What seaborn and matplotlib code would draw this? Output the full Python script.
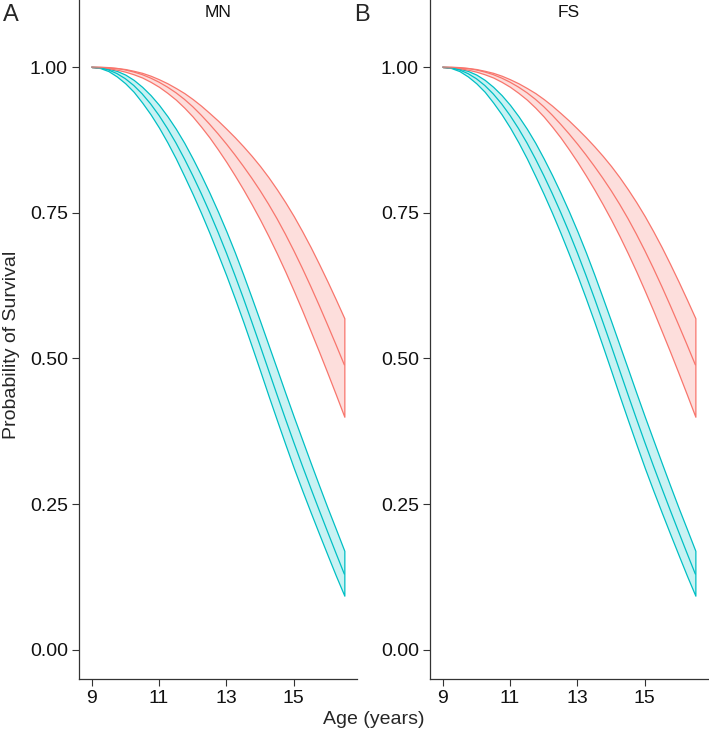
import pandas as pd
import numpy as np
import matplotlib
matplotlib.use("Agg")
import matplotlib.pyplot as plt
import seaborn as sns

sns.set_style("ticks")
plt.rcParams["font.family"] = ["Liberation Sans", "DejaVu Sans"]

# Age grid (years), quarter-year steps from 9 to 16.5
age = np.arange(9.0, 16.51, 0.25)

# MN panel - red group: fitted curve and ribbon half-widths (below / above)
mn_red_mid = [1.0, .9998, .999, .9974, .995, .9915, .987, .9811, .974, .9656, .956, .9448, .932, .9176, .902, .8855,
              .868, .8495, .830, .8096, .788, .7648, .740, .7133, .685, .6552, .624, .5915, .558, .5239, .489]
mn_red_wlo = [0, .0005, .001, .002, .003, .004, .005, .0065, .008, .010, .012, .0145, .017, .020, .023, .027,
              .031, .0355, .040, .045, .050, .055, .060, .0645, .069, .073, .077, .080, .083, .086, .089]
mn_red_whi = [0, .0002, .0005, .001, .0015, .002, .003, .004, .005, .0065, .008, .0105, .013, .016, .019, .0225,
              .026, .030, .034, .038, .042, .046, .050, .0545, .059, .063, .067, .0705, .074, .077, .080]

# MN panel - teal group
mn_teal_mid = [1.0, .9988, .995, .9888, .98, .9684, .954, .9368, .917, .8946, .87, .8429, .814, .7834, .751, .7169,
               .681, .6431, .604, .5633, .522, .48, .438, .3966, .356, .3165, .278, .2402, .203, .1662, .130]
mn_teal_wlo = [0, .0005, .002, .005, .008, .011, .015, .018, .021, .024, .027, .030, .032, .034, .036, .038,
               .039, .040, .041, .042, .043, .044, .044, .044, .044, .043, .042, .041, .040, .039, .037]
mn_teal_whi = [0, .0005, .002, .0045, .007, .0095, .012, .015, .018, .021, .024, .027, .029, .031, .033, .035,
               .037, .039, .040, .041, .042, .043, .044, .044, .044, .044, .043, .042, .041, .041, .040]

# FS panel reads the same as MN
fs_red_mid, fs_red_wlo, fs_red_whi = list(mn_red_mid), list(mn_red_wlo), list(mn_red_whi)
fs_teal_mid, fs_teal_wlo, fs_teal_whi = list(mn_teal_mid), list(mn_teal_wlo), list(mn_teal_whi)

panel_titles = ["MN", "FS"]
panel_letters = ["A", "B"]
x_ticks = [9, 11, 13, 15]
y_ticks = [0.00, 0.25, 0.50, 0.75, 1.00]
y_ticklabels = ["0.00", "0.25", "0.50", "0.75", "1.00"]

red = "#F8766D"
teal = "#00BFC4"

panels = [
    {"red": (mn_red_mid, mn_red_wlo, mn_red_whi), "teal": (mn_teal_mid, mn_teal_wlo, mn_teal_whi)},
    {"red": (fs_red_mid, fs_red_wlo, fs_red_whi), "teal": (fs_teal_mid, fs_teal_wlo, fs_teal_whi)},
]

fig = plt.figure(figsize=(7.09, 7.38), dpi=100)
ax_pos = [[0.1114, 0.0799, 0.3921, 0.9201], [0.6065, 0.0799, 0.3921, 0.9201]]

for i, p in enumerate(panels):
    ax = fig.add_axes(ax_pos[i])
    for grp, col, fill in [("teal", teal, "#C9F2F3"), ("red", red, "#FDDEDC")]:
        mid, wlo, whi = (np.array(v) for v in p[grp])
        # ribbon with outline
        ax.fill_between(age, mid - wlo, mid + whi, facecolor=fill, edgecolor=col, linewidth=0.9, zorder=2)
        df = pd.DataFrame({"age": age, "surv": mid})
        sns.lineplot(data=df, x="age", y="surv", color=col, linewidth=0.9, ax=ax, zorder=3)

    ax.set_xlim(8.625, 16.875)
    ax.set_ylim(-0.05, 1.115)
    ax.set_xticks(x_ticks)
    ax.set_xticklabels([str(t) for t in x_ticks], fontsize=14, color="#111111")
    ax.set_yticks(y_ticks)
    ax.set_yticklabels(y_ticklabels, fontsize=14, color="#111111")
    ax.tick_params(length=5, width=0.8, color="#333333", pad=3)
    for s in ["top", "right"]:
        ax.spines[s].set_visible(False)
    for s in ["left", "bottom"]:
        ax.spines[s].set_color("#333333")
        ax.spines[s].set_linewidth(0.9)
    ax.set_xlabel("")
    ax.set_ylabel("")
    ax.text(0.5, 0.982, panel_titles[i], transform=ax.transAxes, ha="center", va="center", fontsize=12.5, color="#111111")

fig.text(11 / 709, 1 - 15 / 738, panel_letters[0], ha="center", va="center", fontsize=17)
fig.text(362 / 709, 1 - 15 / 738, panel_letters[1], ha="center", va="center", fontsize=17)
fig.text(12 / 709, 1 - 345 / 738, "Probability of Survival", rotation=90, ha="center", va="center", fontsize=14)
fig.text(374 / 709, 1 - 719 / 738, "Age (years)", ha="center", va="center", fontsize=14)

fig.savefig("out.png", dpi=100)
